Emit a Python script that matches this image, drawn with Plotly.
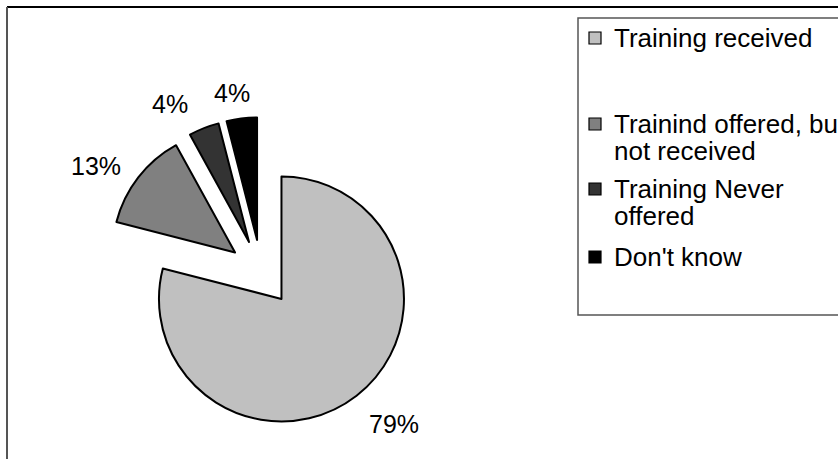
import textwrap
import plotly.graph_objects as go

# ---- data -------------------------------------------------------------
categories = [
    "Training received",
    "Trainind offered, but not received",
    "Training Never offered",
    "Don't know",
]
shares = [79, 13, 4, 4]
slice_colors = ["#C0C0C0", "#808080", "#333333", "#000000"]

# ---- layout constants (pixels) -----------------------------------------
W, H = 838, 459
FONT = "Liberation Sans, Arial, sans-serif"
FS = 25
LEG_FS = 26
PULL = 0.27
PIE_CX, PIE_CY, PIE_R = 261.2, 272.8, 122.5
# centres of the percentage labels, one per slice
LABEL_POS = [(394, 424), (96, 166), (170, 104), (232, 93)]
# legend
LEG_LEFT, LEG_TOP, LEG_BOTTOM = 578, 18, 315
LEG_SWATCH_X, LEG_SWATCH = 595, 12
LEG_TEXT_X = 612
LEG_ITEM_Y = [38, 124, 189, 257]
LEG_LINE_STEP = 27
WRAP = 21


def px(x):
    return x / W


def py(y):
    return 1 - y / H


half = PIE_R * (1 + PULL)
domain_x = [px(PIE_CX - half), px(PIE_CX + half)]
domain_y = [py(PIE_CY + half), py(PIE_CY - half)]

fig = go.Figure(
    go.Pie(
        labels=categories,
        values=shares,
        sort=False,
        direction="clockwise",
        rotation=0,
        pull=[PULL] * len(shares),
        marker=dict(colors=slice_colors, line=dict(color="#000000", width=2)),
        textinfo="none",
        hoverinfo="label+percent",
        showlegend=False,
        domain=dict(x=domain_x, y=domain_y),
    )
)

shapes = []
annotations = []

# outer chart frame (runs off the right and bottom edges)
shapes.append(dict(type="line", xref="paper", yref="paper",
                   x0=px(7), x1=px(W + 20), y0=py(7), y1=py(7),
                   line=dict(color="#000000", width=2)))
shapes.append(dict(type="line", xref="paper", yref="paper",
                   x0=px(7), x1=px(7), y0=py(7), y1=py(H + 20),
                   line=dict(color="#555555", width=2)))

# percentage labels
for v, (lx, ly) in zip(shares, LABEL_POS):
    annotations.append(dict(
        text=f"{v}%", xref="paper", yref="paper", x=px(lx), y=py(ly),
        xanchor="center", yanchor="middle", showarrow=False,
        font=dict(family=FONT, size=FS, color="#000000"),
    ))

# legend frame
shapes.append(dict(type="rect", xref="paper", yref="paper",
                   x0=px(LEG_LEFT), x1=px(W + 20), y0=py(LEG_BOTTOM), y1=py(LEG_TOP),
                   line=dict(color="#555555", width=1.5), fillcolor="rgba(0,0,0,0)"))

# legend entries
for name, color, y0 in zip(categories, slice_colors, LEG_ITEM_Y):
    s = LEG_SWATCH / 2
    shapes.append(dict(type="rect", xref="paper", yref="paper",
                       x0=px(LEG_SWATCH_X - s), x1=px(LEG_SWATCH_X + s),
                       y0=py(y0 + s), y1=py(y0 - s),
                       line=dict(color="#000000", width=1.2), fillcolor=color))
    for k, line in enumerate(textwrap.wrap(name, WRAP)):
        annotations.append(dict(
            text=line, xref="paper", yref="paper",
            x=px(LEG_TEXT_X), y=py(y0 + k * LEG_LINE_STEP),
            xanchor="left", yanchor="middle", showarrow=False,
            font=dict(family=FONT, size=LEG_FS, color="#000000"),
        ))

fig.update_layout(
    width=W, height=H,
    margin=dict(l=0, r=0, t=0, b=0, autoexpand=False),
    paper_bgcolor="#FFFFFF", plot_bgcolor="#FFFFFF",
    font=dict(family=FONT, size=FS),
    shapes=shapes, annotations=annotations,
    showlegend=False,
)

fig.write_html("out.html")
